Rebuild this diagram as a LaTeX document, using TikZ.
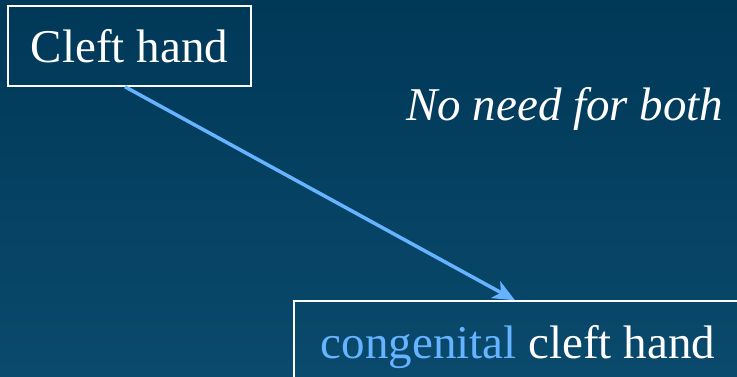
\documentclass[tikz,border=0pt]{standalone}
\usepackage{fontspec}
\setmainfont{Liberation Serif}
\usetikzlibrary{arrows.meta}
\definecolor{bgtop}{HTML}{003858}
\definecolor{bgbot}{HTML}{0A4A6C}
\definecolor{lightblue}{HTML}{66B3FF}
\tikzset{
  termbox/.style={draw=white, line width=1.5bp, text=white, inner sep=0pt,
    font=\fontsize{47bp}{56bp}\selectfont},
  note/.style={text=white, inner sep=0pt, font=\fontsize{47bp}{56bp}\selectfont\itshape},
  link/.style={draw=lightblue, line width=3.5bp, -{Stealth[length=22bp,width=19bp,inset=6bp]}}
}
\begin{document}
\begin{tikzpicture}[x=1bp,y=-1bp]
\useasboundingbox (0,0) rectangle (737,376);
\shade[top color=bgtop, bottom color=bgbot] (0,0) rectangle (737,376);
\node[termbox, minimum width=243bp, minimum height=80bp, text height=32bp, text depth=0bp] (c1) at (129.5,46) {Cleft hand};
\node[termbox, minimum width=448bp, minimum height=92bp, text height=32bp, text depth=10bp] (c2) at (518,347) {\textcolor{lightblue}{congenital} cleft hand};
\node[note, anchor=base west] (n) at (406,120) {No need for both};
\draw[link] ([xshift=-4.5bp]c1.south) -- ([xshift=-3bp]c2.north);
\end{tikzpicture}
\end{document}
